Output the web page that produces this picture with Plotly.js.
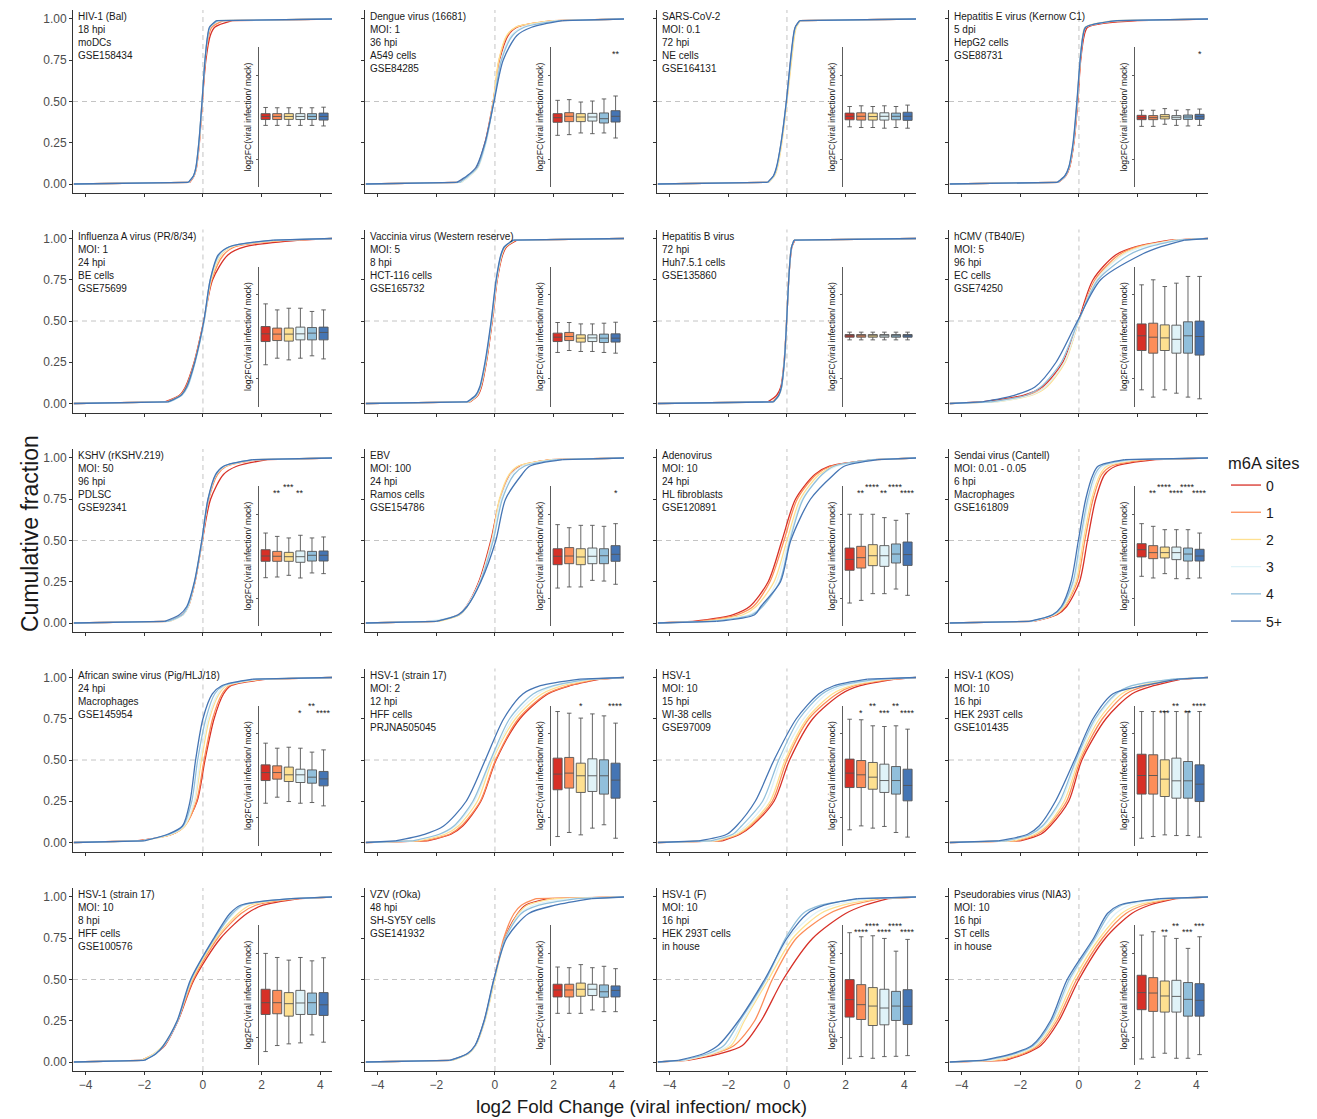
<!DOCTYPE html>
<html><head><meta charset="utf-8">
<script src="https://cdn.plot.ly/plotly-3.0.1.min.js"></script>
<style>html,body{margin:0;padding:0;background:#fff}#chart{width:1317px;height:1119px}</style>
</head><body><div id="chart"></div>
<script>
// ---------------- DATA ----------------
const seriesNames = ['0', '1', '2', '3', '4', '5+'];
const seriesColors = ['#D73027', '#FC8D59', '#FEE090', '#E0F3F8', '#91BFDB', '#4575B4'];

const panelLabels = [
  'HIV-1 (Bal)<br>18 hpi<br>moDCs<br>GSE158434',
  'Dengue virus (16681)<br>MOI: 1<br>36 hpi<br>A549 cells<br>GSE84285',
  'SARS-CoV-2<br>MOI: 0.1<br>72 hpi<br>NE cells<br>GSE164131',
  'Hepatitis E virus (Kernow C1)<br>5 dpi<br>HepG2 cells<br>GSE88731',
  'Influenza A virus (PR/8/34)<br>MOI: 1<br>24 hpi<br>BE cells<br>GSE75699',
  'Vaccinia virus (Western reserve)<br>MOI: 5<br>8 hpi<br>HCT-116 cells<br>GSE165732',
  'Hepatitis B virus<br>72 hpi<br>Huh7.5.1 cells<br>GSE135860',
  'hCMV (TB40/E)<br>MOI: 5<br>96 hpi<br>EC cells<br>GSE74250',
  'KSHV (rKSHV.219)<br>MOI: 50<br>96 hpi<br>PDLSC<br>GSE92341',
  'EBV<br>MOI: 100<br>24 hpi<br>Ramos cells<br>GSE154786',
  'Adenovirus<br>MOI: 10<br>24 hpi<br>HL fibroblasts<br>GSE120891',
  'Sendai virus (Cantell)<br>MOI: 0.01 - 0.05<br>6 hpi<br>Macrophages<br>GSE161809',
  'African swine virus (Pig/HLJ/18)<br>24 hpi<br>Macrophages<br>GSE145954',
  'HSV-1 (strain 17)<br>MOI: 2<br>12 hpi<br>HFF cells<br>PRJNA505045',
  'HSV-1<br>MOI: 10<br>15 hpi<br>WI-38 cells<br>GSE97009',
  'HSV-1 (KOS)<br>MOI: 10<br>16 hpi<br>HEK 293T cells<br>GSE101435',
  'HSV-1 (strain 17)<br>MOI: 10<br>8 hpi<br>HFF cells<br>GSE100576',
  'VZV (rOka)<br>48 hpi<br>SH-SY5Y cells<br>GSE141932',
  'HSV-1 (F)<br>MOI: 10<br>16 hpi<br>HEK 293T cells<br>in house',
  'Pseudorabies virus (NIA3)<br>MOI: 10<br>16 hpi<br>ST cells<br>in house'
];

// cumulative fraction levels at which the log2FC values were read
const quantileLevels = [0.01, 0.05, 0.1, 0.25, 0.5, 0.75, 0.9, 0.95, 0.99];
// flat tails of the curves (fraction 0 on the left, 1 on the right)
const curveTails = [-4.4, 4.4];

// log2FC at each quantile level: cdfX[panel][series]
const cdfX = [
  [ // HIV-1
    [-0.45,-0.30,-0.22,-0.12,-0.02,0.10,0.25,0.40,1.00],
    [-0.47,-0.31,-0.23,-0.13,-0.02,0.08,0.20,0.30,0.70],
    [-0.48,-0.31,-0.23,-0.13,-0.03,0.07,0.17,0.24,0.50],
    [-0.48,-0.31,-0.23,-0.13,-0.03,0.07,0.17,0.24,0.50],
    [-0.49,-0.32,-0.24,-0.14,-0.03,0.07,0.17,0.24,0.50],
    [-0.50,-0.32,-0.24,-0.14,-0.03,0.07,0.16,0.22,0.45]],
  [ // Dengue
    [-1.25,-0.90,-0.62,-0.34,-0.06,0.16,0.45,0.75,2.10],
    [-1.20,-0.88,-0.60,-0.32,-0.05,0.14,0.42,0.72,2.00],
    [-1.15,-0.85,-0.58,-0.32,-0.06,0.13,0.40,0.70,2.00],
    [-1.15,-0.85,-0.58,-0.30,-0.04,0.20,0.55,0.90,2.10],
    [-1.20,-0.90,-0.60,-0.32,-0.04,0.22,0.60,1.00,2.20],
    [-1.30,-0.95,-0.65,-0.34,-0.03,0.28,0.75,1.25,2.30]],
  [ // SARS-CoV-2
    [-0.64,-0.44,-0.34,-0.19,-0.01,0.13,0.23,0.29,0.44],
    [-0.64,-0.44,-0.34,-0.19,-0.01,0.14,0.24,0.30,0.45],
    [-0.62,-0.42,-0.32,-0.17,0.00,0.16,0.26,0.32,0.46],
    [-0.64,-0.44,-0.34,-0.19,-0.01,0.13,0.23,0.29,0.44],
    [-0.65,-0.45,-0.35,-0.20,-0.02,0.13,0.23,0.29,0.44],
    [-0.66,-0.46,-0.36,-0.20,-0.02,0.12,0.22,0.28,0.43]],
  [ // Hepatitis E
    [-0.70,-0.45,-0.32,-0.17,-0.04,0.06,0.18,0.30,2.00],
    [-0.71,-0.46,-0.33,-0.18,-0.05,0.05,0.15,0.25,1.50],
    [-0.72,-0.47,-0.34,-0.19,-0.06,0.04,0.13,0.21,1.20],
    [-0.72,-0.47,-0.34,-0.19,-0.06,0.04,0.14,0.23,1.30],
    [-0.72,-0.47,-0.34,-0.19,-0.06,0.04,0.14,0.23,1.30],
    [-0.74,-0.48,-0.35,-0.20,-0.07,0.04,0.14,0.23,1.30]],
  [ // Influenza A
    [-1.30,-0.80,-0.60,-0.30,0.03,0.33,0.85,1.45,3.30],
    [-1.25,-0.78,-0.58,-0.29,0.03,0.30,0.70,1.10,3.00],
    [-1.20,-0.76,-0.56,-0.28,0.04,0.28,0.62,1.00,2.80],
    [-1.15,-0.72,-0.52,-0.26,0.05,0.26,0.58,0.95,2.60],
    [-1.15,-0.72,-0.53,-0.27,0.04,0.25,0.55,0.90,2.50],
    [-1.20,-0.75,-0.56,-0.28,0.03,0.25,0.52,0.90,2.40]],
  [ // Vaccinia
    [-0.85,-0.58,-0.46,-0.29,-0.09,0.08,0.26,0.40,0.75],
    [-0.87,-0.60,-0.48,-0.30,-0.10,0.07,0.24,0.37,0.70],
    [-0.88,-0.61,-0.49,-0.31,-0.11,0.06,0.23,0.36,0.68],
    [-0.90,-0.62,-0.50,-0.32,-0.11,0.06,0.22,0.34,0.66],
    [-0.92,-0.63,-0.50,-0.32,-0.12,0.05,0.21,0.33,0.64],
    [-0.95,-0.66,-0.52,-0.34,-0.13,0.04,0.20,0.32,0.62]],
  [ // Hepatitis B
    [-0.65,-0.35,-0.21,-0.10,-0.01,0.06,0.13,0.17,0.27],
    [-0.50,-0.29,-0.19,-0.09,-0.01,0.06,0.12,0.16,0.25],
    [-0.45,-0.27,-0.18,-0.09,-0.01,0.06,0.12,0.16,0.24],
    [-0.45,-0.27,-0.18,-0.09,-0.01,0.06,0.12,0.16,0.24],
    [-0.45,-0.27,-0.18,-0.09,-0.01,0.06,0.12,0.16,0.24],
    [-0.46,-0.28,-0.19,-0.09,-0.01,0.06,0.12,0.16,0.24]],
  [ // hCMV
    [-3.30,-1.90,-1.25,-0.55,-0.02,0.48,1.25,1.95,3.10],
    [-3.00,-1.75,-1.15,-0.50,0.00,0.55,1.35,2.00,3.20],
    [-2.80,-1.60,-1.10,-0.47,0.00,0.60,1.45,2.10,3.30],
    [-2.80,-1.65,-1.15,-0.50,0.00,0.60,1.50,2.20,3.30],
    [-3.00,-1.80,-1.30,-0.60,-0.02,0.65,1.70,2.40,3.40],
    [-3.30,-2.20,-1.50,-0.78,-0.05,0.74,2.10,2.80,3.60]],
  [ // KSHV
    [-1.20,-0.70,-0.50,-0.27,-0.02,0.26,0.70,1.15,2.20],
    [-1.15,-0.68,-0.50,-0.27,-0.02,0.20,0.50,0.80,1.90],
    [-1.15,-0.68,-0.50,-0.28,-0.03,0.18,0.45,0.75,1.80],
    [-1.15,-0.67,-0.50,-0.28,-0.03,0.18,0.45,0.75,1.80],
    [-1.20,-0.70,-0.52,-0.28,-0.03,0.18,0.45,0.72,1.70],
    [-1.30,-0.80,-0.55,-0.29,-0.04,0.17,0.43,0.70,1.70]],
  [ // EBV
    [-2.00,-1.25,-0.98,-0.55,-0.14,0.17,0.52,0.85,1.90],
    [-2.00,-1.22,-0.96,-0.52,-0.12,0.17,0.50,0.80,1.90],
    [-1.90,-1.20,-0.95,-0.52,-0.10,0.15,0.48,0.78,1.90],
    [-2.30,-1.25,-0.98,-0.52,-0.10,0.20,0.55,0.90,2.00],
    [-2.00,-1.22,-0.95,-0.50,-0.06,0.25,0.65,1.00,2.10],
    [-2.00,-1.25,-0.95,-0.48,0.03,0.36,0.92,1.18,2.30]],
  [ // Adenovirus
    [-3.20,-1.85,-1.27,-0.64,-0.17,0.29,0.95,1.45,3.00],
    [-3.00,-1.70,-1.15,-0.58,-0.10,0.35,1.00,1.50,3.00],
    [-2.80,-1.50,-1.05,-0.44,0.00,0.45,1.10,1.60,3.00],
    [-2.60,-1.30,-0.85,-0.35,0.06,0.52,1.20,1.70,3.00],
    [-2.60,-1.20,-0.83,-0.25,0.10,0.55,1.20,1.60,2.90],
    [-2.40,-1.10,-0.89,-0.22,0.13,0.80,1.60,1.95,3.10]],
  [ // Sendai
    [-1.55,-0.75,-0.42,0.02,0.29,0.57,0.88,1.25,2.60],
    [-1.60,-0.80,-0.48,-0.06,0.20,0.48,0.78,1.10,2.30],
    [-1.60,-0.82,-0.50,-0.10,0.15,0.43,0.72,0.95,2.10],
    [-1.60,-0.85,-0.55,-0.15,0.08,0.35,0.62,0.85,1.90],
    [-1.65,-0.88,-0.57,-0.20,0.04,0.30,0.55,0.75,1.70],
    [-1.70,-0.90,-0.60,-0.27,-0.02,0.23,0.48,0.65,1.55]],
  [ // African swine virus
    [-2.30,-1.05,-0.64,-0.20,0.07,0.38,0.70,0.95,2.20],
    [-2.20,-1.05,-0.62,-0.22,0.04,0.33,0.65,0.90,2.10],
    [-2.10,-1.05,-0.62,-0.28,-0.05,0.22,0.55,0.80,2.00],
    [-2.10,-1.10,-0.65,-0.30,-0.10,0.18,0.50,0.75,1.90],
    [-2.10,-1.15,-0.68,-0.38,-0.18,0.10,0.40,0.70,1.80],
    [-2.00,-1.20,-0.70,-0.44,-0.25,0.00,0.32,0.64,1.70]],
  [ // HSV-1 strain 17 (PRJNA505045)
    [-2.30,-1.50,-1.10,-0.48,0.04,0.85,1.80,2.55,3.60],
    [-2.40,-1.55,-1.15,-0.50,0.02,0.80,1.75,2.50,3.50],
    [-2.60,-1.70,-1.25,-0.60,-0.08,0.70,1.60,2.30,3.40],
    [-2.80,-1.85,-1.35,-0.70,-0.12,0.60,1.45,2.10,3.30],
    [-2.80,-1.90,-1.40,-0.75,-0.15,0.50,1.30,2.00,3.20],
    [-3.40,-2.40,-1.75,-0.98,-0.33,0.30,0.95,1.55,2.90]],
  [ // HSV-1 WI-38
    [-2.20,-1.60,-1.20,-0.44,0.09,0.88,1.85,2.50,3.70],
    [-2.30,-1.65,-1.25,-0.50,0.00,0.75,1.70,2.30,3.60],
    [-2.40,-1.70,-1.30,-0.57,-0.06,0.68,1.55,2.20,3.40],
    [-2.50,-1.80,-1.40,-0.70,-0.20,0.57,1.35,2.00,3.30],
    [-2.60,-1.85,-1.55,-0.83,-0.28,0.42,1.20,1.80,3.10],
    [-3.00,-2.05,-1.72,-1.08,-0.44,0.32,1.08,1.60,2.75]],
  [ // HSV-1 KOS
    [-2.00,-1.30,-0.98,-0.35,0.10,0.92,1.80,2.55,3.50],
    [-2.10,-1.40,-1.05,-0.42,0.05,0.80,1.60,2.30,3.40],
    [-2.20,-1.50,-1.10,-0.50,0.00,0.70,1.45,2.10,3.30],
    [-2.40,-1.60,-1.20,-0.60,-0.05,0.60,1.30,1.80,3.20],
    [-2.50,-1.65,-1.25,-0.65,-0.10,0.55,1.25,1.80,3.20],
    [-2.75,-1.75,-1.36,-0.80,-0.15,0.48,1.15,2.20,3.40]],
  [ // HSV-1 strain 17 (GSE100576)
    [-2.10,-1.65,-1.30,-0.85,-0.30,0.60,1.50,2.05,3.30],
    [-2.10,-1.65,-1.32,-0.86,-0.33,0.50,1.30,1.80,3.20],
    [-2.10,-1.68,-1.35,-0.87,-0.37,0.45,1.20,1.60,3.10],
    [-2.00,-1.65,-1.33,-0.87,-0.40,0.40,1.05,1.40,3.00],
    [-2.00,-1.62,-1.33,-0.86,-0.40,0.40,1.00,1.35,3.00],
    [-2.00,-1.60,-1.35,-0.88,-0.42,0.37,0.92,1.28,3.00]],
  [ // VZV
    [-1.50,-0.93,-0.67,-0.36,-0.03,0.33,0.78,1.04,1.80],
    [-1.50,-0.92,-0.66,-0.35,-0.02,0.30,0.65,0.90,1.40],
    [-1.45,-0.90,-0.65,-0.34,0.00,0.35,0.80,1.10,2.00],
    [-1.50,-0.92,-0.66,-0.35,-0.02,0.36,0.85,1.30,2.50],
    [-1.50,-0.93,-0.67,-0.36,-0.03,0.35,0.90,1.50,2.80],
    [-1.55,-0.95,-0.68,-0.37,-0.04,0.40,1.15,2.05,3.30]],
  [ // HSV-1 (F)
    [-3.40,-2.30,-1.52,-0.88,-0.13,0.88,2.00,2.65,3.45],
    [-3.50,-2.50,-1.80,-1.10,-0.50,0.32,1.45,2.20,3.20],
    [-3.50,-2.55,-1.90,-1.45,-0.63,0.20,1.15,1.90,3.10],
    [-3.50,-2.60,-2.00,-1.50,-0.70,0.06,0.95,1.60,2.80],
    [-3.60,-2.70,-2.15,-1.60,-0.72,-0.05,0.55,1.15,2.50],
    [-3.70,-2.85,-2.35,-1.65,-0.76,0.00,0.70,1.27,2.40]],
  [ // Pseudorabies
    [-2.50,-1.83,-1.30,-0.68,0.00,0.90,1.80,2.40,3.30],
    [-2.60,-1.90,-1.38,-0.75,-0.08,0.80,1.60,2.20,3.20],
    [-2.90,-2.00,-1.45,-0.82,-0.17,0.70,1.45,2.00,3.10],
    [-3.00,-2.10,-1.50,-0.88,-0.27,0.60,1.25,1.70,3.00],
    [-3.20,-2.20,-1.55,-0.92,-0.33,0.55,1.05,1.45,2.80],
    [-3.30,-2.30,-1.60,-0.97,-0.40,0.50,0.97,1.37,2.75]]
];

// inset boxplots (unlabelled log2FC scale, read as fraction of inset height)
const boxLow = [
  [.44,.44,.44,.44,.44,.436],[.369,.374,.386,.381,.386,.35],[.43,.425,.425,.42,.425,.42],[.433,.433,.448,.44,.436,.44],
  [.298,.345,.333,.345,.362,.34],[.386,.4,.393,.393,.386,.381],[.476,.476,.476,.476,.476,.476],[.119,.067,.119,.095,.067,.055],
  [.345,.35,.362,.343,.379,.374],[.271,.279,.279,.326,.321,.298],[.164,.183,.231,.231,.264,.219],[.355,.343,.374,.338,.338,.343],
  [.302,.345,.314,.302,.307,.283],[.064,.093,.076,.124,.148,.052],[.112,.14,.124,.136,.093,.06],[.052,.064,.076,.071,.071,.06],
  [.096,.139,.151,.158,.215,.163],[.369,.369,.369,.393,.381,.381],[.048,.06,.048,.06,.062,.067],[.043,.055,.084,.048,.048,.074]];
const boxQ1 = [
  [.482,.482,.483,.482,.482,.478],[.462,.467,.467,.471,.457,.464],[.48,.478,.478,.478,.48,.476],[.481,.481,.486,.483,.483,.483],
  [.464,.471,.467,.476,.476,.476],[.464,.471,.46,.464,.457,.46],[.495,.495,.495,.495,.495,.495],[.4,.381,.4,.381,.381,.367],
  [.462,.462,.462,.455,.464,.464],[.438,.445,.438,.445,.445,.462],[.398,.414,.431,.426,.45,.433],[.493,.481,.486,.474,.464,.464],
  [.464,.474,.457,.45,.445,.426],[.398,.41,.379,.386,.367,.338],[.414,.414,.402,.379,.367,.319],[.367,.367,.35,.338,.338,.314],
  [.361,.366,.349,.361,.361,.354],[.486,.486,.491,.496,.484,.486],[.342,.325,.282,.287,.318,.289],[.395,.383,.378,.378,.349,.349]];
const boxMed = [
  [.504,.504,.504,.504,.504,.504],[.495,.505,.5,.5,.488,.505],[.505,.505,.503,.505,.505,.505],[.495,.495,.502,.498,.5,.502],
  [.519,.517,.517,.519,.524,.529],[.495,.5,.488,.49,.488,.488],[.505,.505,.505,.505,.505,.505],[.505,.495,.49,.48,.505,.5],
  [.5,.498,.495,.495,.505,.505],[.498,.5,.493,.498,.502,.512],[.476,.488,.502,.502,.514,.51],[.545,.524,.524,.524,.514,.5],
  [.521,.521,.505,.505,.488,.476],[.51,.517,.498,.498,.498,.467],[.517,.505,.488,.464,.464,.429],[.5,.5,.474,.462,.462,.438],
  [.445,.445,.438,.443,.445,.43],[.536,.536,.541,.541,.523,.533],[.467,.431,.421,.407,.421,.419],[.517,.514,.493,.49,.469,.462]];
const boxQ3 = [
  [.524,.524,.524,.524,.524,.528],[.524,.531,.524,.526,.529,.545],[.528,.53,.528,.53,.528,.534],[.512,.51,.517,.51,.514,.519],
  [.571,.56,.56,.567,.564,.567],[.524,.529,.512,.512,.517,.519],[.514,.514,.514,.514,.514,.514],[.59,.595,.583,.581,.605,.61],
  [.545,.533,.526,.536,.533,.536],[.552,.56,.552,.557,.552,.574],[.557,.569,.581,.574,.586,.6],[.588,.574,.564,.564,.557,.548],
  [.576,.569,.56,.545,.54,.529],[.624,.629,.588,.619,.612,.588],[.617,.607,.593,.581,.564,.545],[.652,.648,.612,.624,.6,.576],
  [.541,.533,.517,.533,.514,.517],[.577,.577,.585,.577,.572,.565],[.61,.574,.553,.541,.526,.538],[.641,.624,.6,.605,.589,.581]];
const boxHigh = [
  [.568,.566,.566,.566,.566,.57],[.619,.624,.607,.614,.629,.65],[.575,.58,.575,.58,.575,.585],[.548,.548,.56,.548,.552,.557],
  [.733,.69,.702,.702,.679,.69],[.6,.6,.59,.59,.595,.602],[.531,.531,.531,.531,.531,.531],[.869,.905,.857,.881,.929,.929],
  [.664,.64,.629,.648,.629,.636],[.724,.702,.719,.719,.712,.731],[.798,.798,.798,.774,.755,.802],[.731,.712,.688,.688,.688,.664],
  [.731,.695,.702,.695,.667,.683],[.957,.945,.91,.94,.926,.874],[.902,.898,.855,.85,.855,.831],[.957,.957,.957,.957,.957,.957],
  [.797,.768,.749,.768,.744,.766],[.7,.695,.717,.695,.705,.688],[.945,.916,.923,.904,.813,.897],[.928,.952,.921,.904,.833,.916]];

// significance labels per box and their row (0 lower, 1 upper)
const starLabels = [
  ['','','','','',''],['','','','','','**'],['','','','','',''],['','','','','','*'],
  ['','','','','',''],['','','','','',''],['','','','','',''],['','','','','',''],
  ['','**','***','**','',''],['','','','','','*'],['','**','****','**','****','****'],['','**','****','****','****','****'],
  ['','','','*','**','****'],['','','*','','','****'],['','*','**','***','**','****'],['','','***','**','**','****'],
  ['','','','','',''],['','','','','',''],['','****','****','****','****','****'],['','','**','**','***','***']];
const starRows = [
  [0,0,0,0,0,0],[0,0,0,0,0,0],[0,0,0,0,0,0],[0,0,0,0,0,0],
  [0,0,0,0,0,0],[0,0,0,0,0,0],[0,0,0,0,0,0],[0,0,0,0,0,0],
  [0,0,1,0,0,0],[0,0,0,0,0,0],[0,0,1,0,1,0],[0,0,1,0,1,0],
  [0,0,0,0,1,0],[0,0,1,0,0,1],[0,0,1,0,1,0],[0,0,0,1,0,1],
  [0,0,0,0,0,0],[0,0,0,0,0,0],[0,0,1,0,1,0],[0,0,0,1,0,1]];

const xTicks = [-4, -2, 0, 2, 4];
const yTicks = [0, 0.25, 0.5, 0.75, 1];
const refLineX = 0;
const refLineY = 0.5;

// ---------------- LAYOUT GEOMETRY ----------------
const W = 1317, H = 1119;
const FONT = 'Liberation Sans, Arial, sans-serif';
const nCols = 4, nRows = 5;
const left0 = 73, panelW = 259, colStep = 292;
const top0 = 10, panelH = 183, rowStep = 219.5;
const xRange = [-4.43, 4.40];
const yRange = [-0.0545, 1.0545];
const hLineEnd = 1.45;
const inset = {l: 186, r: 258, t: 37, b: 177};
const insetXRange = [-0.57, 5.64];
const starLevels = [0.947, 0.995];

const traces = [];
const layout = {
  width: W, height: H,
  margin: {l: 0, r: 0, t: 0, b: 0},
  paper_bgcolor: '#fff', plot_bgcolor: 'rgba(0,0,0,0)',
  font: {family: FONT, color: '#1a1a1a'},
  showlegend: true,
  legend: {
    x: 1226 / W, xanchor: 'left', y: 1 - 448 / H, yanchor: 'top',
    title: {text: 'm6A sites', font: {size: 16.5, color: '#1a1a1a'}},
    font: {size: 14, color: '#1a1a1a'},
    traceorder: 'grouped', tracegroupgap: 6,
    bgcolor: 'rgba(0,0,0,0)', borderwidth: 0
  },
  shapes: [], annotations: []
};

for (let p = 0; p < panelLabels.length; p++) {
  const r = Math.floor(p / nCols), c = p % nCols;
  const id = p + 1, iid = p + 21;
  const px = left0 + c * colStep, py = top0 + r * rowStep;
  const xa = 'x' + (id === 1 ? '' : id), ya = 'y' + (id === 1 ? '' : id);
  const ixa = 'x' + iid, iya = 'y' + iid;

  layout['xaxis' + (id === 1 ? '' : id)] = {
    domain: [px / W, (px + panelW) / W], anchor: ya, range: xRange,
    tickvals: xTicks, showticklabels: r === nRows - 1,
    tickfont: {size: 12, color: '#4d4d4d'},
    ticks: 'outside', ticklen: 3, tickcolor: '#333', tickwidth: 1,
    showline: true, linecolor: '#333', linewidth: 1,
    showgrid: false, zeroline: false, fixedrange: true
  };
  layout['yaxis' + (id === 1 ? '' : id)] = {
    domain: [1 - (py + panelH) / H, 1 - py / H], anchor: xa, range: yRange,
    tickvals: yTicks, tickformat: '.2f', showticklabels: c === 0,
    tickfont: {size: 12, color: '#4d4d4d'},
    ticks: 'outside', ticklen: 3, tickcolor: '#333', tickwidth: 1,
    showline: true, linecolor: '#333', linewidth: 1,
    showgrid: false, zeroline: false, fixedrange: true
  };
  layout['xaxis' + iid] = {
    domain: [(px + inset.l) / W, (px + inset.r) / W], anchor: iya,
    range: insetXRange, visible: false, fixedrange: true
  };
  layout['yaxis' + iid] = {
    domain: [1 - (py + inset.b) / H, 1 - (py + inset.t) / H], anchor: ixa,
    range: [0, 1], showline: true, linecolor: '#333', linewidth: 0.8,
    ticks: 'outside', ticklen: 2, tickcolor: '#333', tickwidth: 0.8, tickvals: [0.2, 0.8],
    showticklabels: false, showgrid: false, zeroline: false, fixedrange: true,
    title: {text: 'log2FC(viral infection/ mock)', font: {size: 8.6, color: '#1a1a1a'}, standoff: 3}
  };

  // reference lines
  layout.shapes.push({type: 'line', layer: 'below', xref: xa, yref: ya + ' domain',
    x0: refLineX, x1: refLineX, y0: 0, y1: 1,
    line: {color: '#c4c4c4', width: 1, dash: '5px,4px'}});
  layout.shapes.push({type: 'line', layer: 'below', xref: xa, yref: ya,
    x0: xRange[0], x1: hLineEnd, y0: refLineY, y1: refLineY,
    line: {color: '#c4c4c4', width: 1, dash: '5px,4px'}});

  // panel label
  layout.annotations.push({xref: xa + ' domain', yref: ya + ' domain', x: 0, y: 1,
    xshift: 3, yshift: 1, xanchor: 'left', yanchor: 'top', align: 'left',
    text: panelLabels[p], showarrow: false, font: {size: 10, color: '#1a1a1a'}});

  const nq = quantileLevels.length;
  for (let s = 0; s < seriesNames.length; s++) {
    const q = cdfX[p][s];
    // flat tails (straight segments)
    traces.push({
      type: 'scatter', mode: 'lines', xaxis: xa, yaxis: ya,
      x: [curveTails[0], q[0], null, q[nq - 1], curveTails[1]],
      y: [0, quantileLevels[0], null, quantileLevels[nq - 1], 1],
      line: {color: seriesColors[s], width: 1.3},
      legendgroup: 'g' + s, showlegend: false, hoverinfo: 'skip', connectgaps: false
    });
    // smooth body of the cumulative curve
    traces.push({
      type: 'scatter', mode: 'lines', xaxis: xa, yaxis: ya,
      x: q, y: quantileLevels,
      line: {color: seriesColors[s], width: 1.3, shape: 'spline', smoothing: 0.8},
      name: seriesNames[s], legendgroup: 'g' + s, showlegend: p === 0,
      hoverinfo: 'skip'
    });
  }
  for (let s = 0; s < seriesNames.length; s++) {
    traces.push({
      type: 'box', xaxis: ixa, yaxis: iya, x: [s],
      q1: [boxQ1[p][s]], median: [boxMed[p][s]], q3: [boxQ3[p][s]],
      lowerfence: [boxLow[p][s]], upperfence: [boxHigh[p][s]],
      fillcolor: seriesColors[s], line: {color: '#555555', width: 0.9},
      width: 0.78, boxpoints: false, showlegend: false, hoverinfo: 'skip',
      name: seriesNames[s]
    });
    if (starLabels[p][s]) {
      layout.annotations.push({xref: ixa, yref: iya, x: s, y: starLevels[starRows[p][s]],
        text: starLabels[p][s], showarrow: false, xanchor: 'center', yanchor: 'middle',
        font: {size: 9, color: '#1a1a1a'}});
    }
  }
}

// overall axis titles
layout.annotations.push({xref: 'paper', yref: 'paper', x: 30 / W, y: 1 - 534 / H,
  text: 'Cumulative fraction', textangle: -90, showarrow: false,
  xanchor: 'center', yanchor: 'middle', font: {size: 23, color: '#1a1a1a'}});
layout.annotations.push({xref: 'paper', yref: 'paper', x: 641 / W, y: 1 - 1106 / H,
  text: 'log2 Fold Change (viral infection/ mock)', showarrow: false,
  xanchor: 'center', yanchor: 'middle', font: {size: 18.8, color: '#1a1a1a'}});

Plotly.newPlot('chart', traces, layout, {displayModeBar: false, staticPlot: true});
</script>
</body></html>
